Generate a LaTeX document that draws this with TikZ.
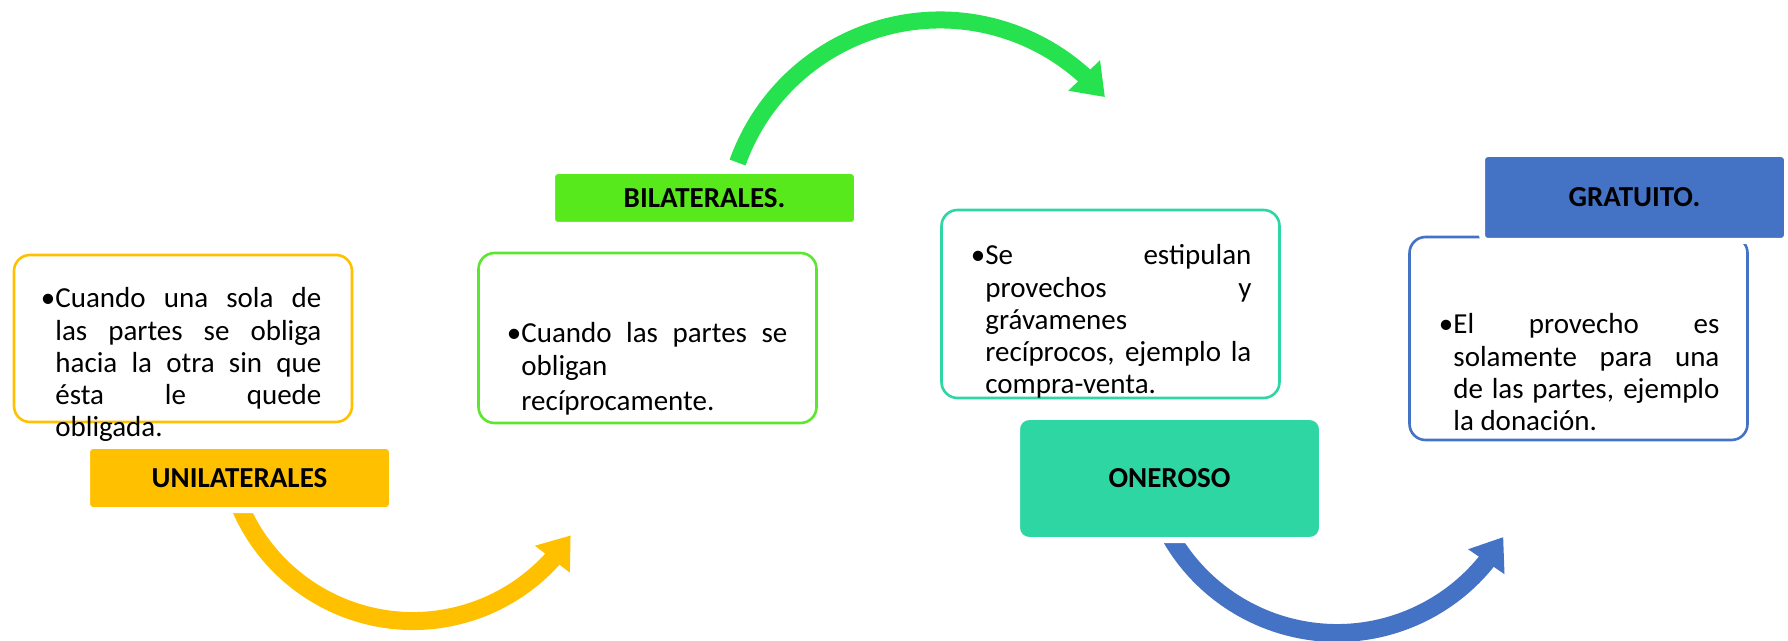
\documentclass[tikz,border=0pt]{standalone}
\usepackage{fontspec}
\setmainfont{Carlito}
\usepackage{xcolor}
\usetikzlibrary{arrows.meta}
\usetikzlibrary{bending}

\definecolor{unigold}{HTML}{FFC000}
\definecolor{bilgreen}{HTML}{57E91B}
\definecolor{billine}{HTML}{5CE62E}
\definecolor{arrowgreen}{HTML}{26E24E}
\definecolor{onerteal}{HTML}{2ED6A4}
\definecolor{gratblue}{HTML}{4472C4}

\newcommand{\diagfont}{\fontsize{14.5pt}{16.1pt}\selectfont}

\tikzset{
    txtbox/.style={draw, fill=white, rounded corners=8pt, line width=1.3pt, minimum width=169pt, inner sep=0pt},
    tagbox/.style={draw=white, line width=3pt, rounded corners=3pt, minimum width=152.5pt, inner sep=0pt, font=\diagfont\bfseries},
    body/.style={anchor=base west, inner sep=0pt, text width=133pt, align=justify, font=\diagfont,
        execute at begin node={\tolerance=10000\hbadness=10000\hyphenpenalty=10000}},
    swoop/.style={line width=9pt, -{Triangle[length=15pt,width=21pt]}}
}

\begin{document}
\begin{tikzpicture}[x=0.5pt, y=0.5pt]
    \useasboundingbox (0,0) rectangle (1788,-641);

    \coordinate (uniStart) at ([shift={(198:188)}]413,-433);
    \coordinate (bilStart) at ([shift={(160.3:215)}]940,-235);
    \coordinate (onerStart) at ([shift={(205:192)}]1337,-441);
    \draw[swoop, unigold] (uniStart) arc[start angle=198, end angle=327, radius=188];
    \draw[swoop, arrowgreen, line width=8.5pt] (bilStart) arc[start angle=160.3, end angle=39.9, radius=215];
    \draw[swoop, gratblue] (onerStart) arc[start angle=205, end angle=330, radius=192];

    \node[txtbox, draw=unigold, minimum height=83.5pt] (uniTxt) at (183,-338.5) {};
    \node[txtbox, draw=billine, minimum height=85pt] (bilTxt) at (647.5,-338) {};
    \node[txtbox, draw=onerteal, minimum height=94pt] (onerTxt) at (1110.5,-304) {};
    \node[txtbox, draw=gratblue, minimum height=101.5pt] (gratTxt) at (1578.5,-338.5) {};

    \node[tagbox, fill=unigold, minimum height=32pt] (uni) at (239.5,-478) {UNILATERALES};
    \node[tagbox, fill=bilgreen, minimum height=27pt] (bil) at (704.5,-198) {BILATERALES.};
    \node[tagbox, fill=onerteal, minimum height=61.5pt, rounded corners=6pt] (oner) at (1169.5,-478.5) {ONEROSO};
    \node[tagbox, fill=gratblue, minimum height=43.5pt] (grat) at (1634.5,-197.5) {GRATUITO.};

    \node[body] (uniBody) at (55,-308) {\llap{\textbullet}Cuando una sola de\linebreak las partes se obliga\linebreak hacia la otra sin que\linebreak ésta le quede\linebreak obligada.};
    \node[body] (bilBody) at (521,-343) {\llap{\textbullet}Cuando las partes se\linebreak obligan\\[1.5pt] recíprocamente.};
    \node[body] (onerBody) at (985,-265) {\llap{\textbullet}Se estipulan\linebreak provechos y\linebreak grávamenes\\ recíprocos, ejemplo la\linebreak compra-venta.};
    \node[body] (gratBody) at (1453,-334) {\llap{\textbullet}El provecho es\linebreak solamente para una\linebreak de las partes, ejemplo\linebreak la donación.};
\end{tikzpicture}
\end{document}
